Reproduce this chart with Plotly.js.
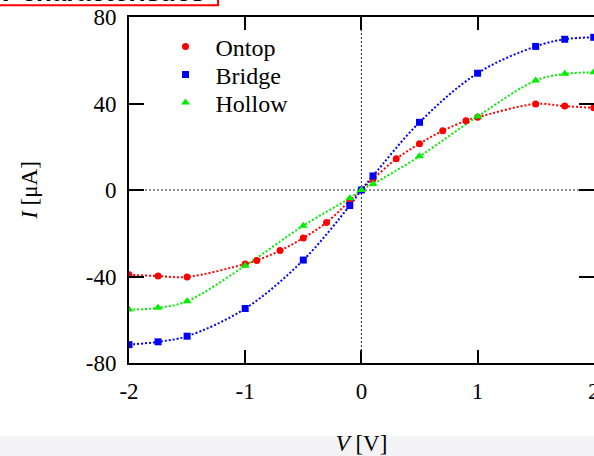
<!DOCTYPE html>
<html>
<head>
<meta charset="utf-8">
<script src="https://cdn.plot.ly/plotly-3.0.1.min.js"></script>
<style>html,body{margin:0;padding:0;background:#fff;}#chart{width:594px;height:456px;}</style>
</head>
<body>
<div id="chart"></div>
<script>
const ontopV = [-2, -1.75, -1.5, -1, -0.9, -0.7, -0.5, -0.3, -0.1, 0, 0.1, 0.3, 0.5, 0.7, 0.9, 1, 1.5, 1.75, 2];
const ontopI = [-39.2, -39.8, -40.2, -34.2, -32.6, -28.0, -22.2, -15.0, -5.0, 0, 5.1, 14.4, 21.4, 27.4, 32.0, 33.6, 39.8, 38.8, 38.0];
const bridgeV = [-2, -1.75, -1.5, -1, -0.5, -0.1, 0, 0.1, 0.5, 1, 1.5, 1.75, 2];
const bridgeI = [-71.5, -70.2, -67.6, -54.8, -32.4, -7.2, 0, 6.5, 31.3, 54.0, 66.4, 69.7, 70.6];
const hollowV = [-2, -1.75, -1.5, -1, -0.5, -0.1, 0, 0.1, 0.5, 1, 1.5, 1.75, 2];
const hollowI = [-55.3, -54.5, -51.4, -35.0, -16.5, -3.8, 0, 2.8, 15.6, 34.0, 50.6, 53.7, 54.4];
const seriesNames = ["Ontop", "Bridge", "Hollow"];
const seriesColors = ["#ff0000", "#0000ff", "#00ee00"];
const xTicks = [-2, -1, 0, 1, 2];
const yTicks = [-80, -40, 0, 40, 80];

const sets = [[ontopV, ontopI, "circle", 7], [bridgeV, bridgeI, "square", 7], [hollowV, hollowI, "triangle-up", 8]];
const legendIds = ["legend", "legend2", "legend3"];
const traces = [];
sets.forEach((s, i) => {
  traces.push({x: s[0], y: s[1], mode: "lines", type: "scatter", showlegend: false, hoverinfo: "skip",
    line: {color: seriesColors[i], width: 2, dash: "2px,2px", shape: "spline", smoothing: 1}});
});
sets.forEach((s, i) => {
  traces.push({x: s[0], y: s[1], mode: "markers", type: "scatter", name: seriesNames[i], legend: legendIds[i],
    marker: {color: seriesColors[i], symbol: s[2], size: s[3]}});
});

const serif = "Liberation Serif, Times New Roman, serif";
const legendY = [0.9133, 0.8324, 0.7514];
const mkLegend = (y) => ({x: 0.057, xanchor: "left", y: y, yanchor: "middle", bgcolor: "rgba(255,255,255,0)",
  font: {family: serif, size: 24, color: "#000"}, itemwidth: 50, borderwidth: 0});

const layout = {
  width: 594, height: 456,
  margin: {l: 129, r: 0, t: 17, b: 93},
  paper_bgcolor: "#fff", plot_bgcolor: "#fff",
  font: {family: serif, size: 23, color: "#000"},
  showlegend: true,
  legend: mkLegend(legendY[0]),
  legend2: mkLegend(legendY[1]),
  legend3: mkLegend(legendY[2]),
  xaxis: {range: [-2, 2.002], tickvals: xTicks, ticktext: xTicks.map(String), showgrid: false, zeroline: false,
    showline: true, linecolor: "#000", linewidth: 2, mirror: "allticks", ticks: "inside", ticklen: 13, tickwidth: 2, tickcolor: "#000",
    ticklabeloverflow: "allow", ticklabelstandoff: 6,
    tickfont: {family: serif, size: 23}, title: {text: "<i>V</i> [V]", font: {family: serif, size: 23}, standoff: 34}},
  yaxis: {range: [-80, 80], tickvals: yTicks, ticktext: yTicks.map(String), showgrid: false, zeroline: false,
    showline: true, linecolor: "#000", linewidth: 2, mirror: "allticks", ticks: "inside", ticklen: 15, tickwidth: 2, tickcolor: "#000",
    tickfont: {family: serif, size: 23}, ticklabelstandoff: 6, ticklabeloverflow: "allow",
    title: {text: "<i>I</i> [μA]", font: {family: serif, size: 23}, standoff: 42}},
  shapes: [
    {type: "line", xref: "x", yref: "paper", x0: 0, x1: 0, y0: 0, y1: 1, line: {color: "#222", width: 1, dash: "2px,2px"}, layer: "below"},
    {type: "line", xref: "paper", yref: "y", x0: 0, x1: 1, y0: 0, y1: 0, line: {color: "#222", width: 1, dash: "2px,2px"}, layer: "below"},
    {type: "rect", xref: "paper", yref: "paper", x0: -0.29, x1: 0.1914, y0: 1.034, y1: 1.2, line: {color: "#ff0000", width: 2}, fillcolor: "rgba(0,0,0,0)"},
    {type: "rect", xref: "paper", yref: "paper", x0: -0.3, x1: 1.01, y0: -0.212, y1: -0.3, line: {width: 0}, fillcolor: "#f4f4f7", layer: "below"}
  ],
  annotations: [
    {text: "<b>I-V characteristics</b>", xref: "paper", yref: "paper", x: 0.168, xanchor: "right", y: 1.0231, yanchor: "bottom",
     showarrow: false, font: {family: "Liberation Sans, Arial, sans-serif", size: 26, color: "#000"}}
  ]
};
Plotly.newPlot("chart", traces, layout, {displayModeBar: false, staticPlot: true});
</script>
</body>
</html>
